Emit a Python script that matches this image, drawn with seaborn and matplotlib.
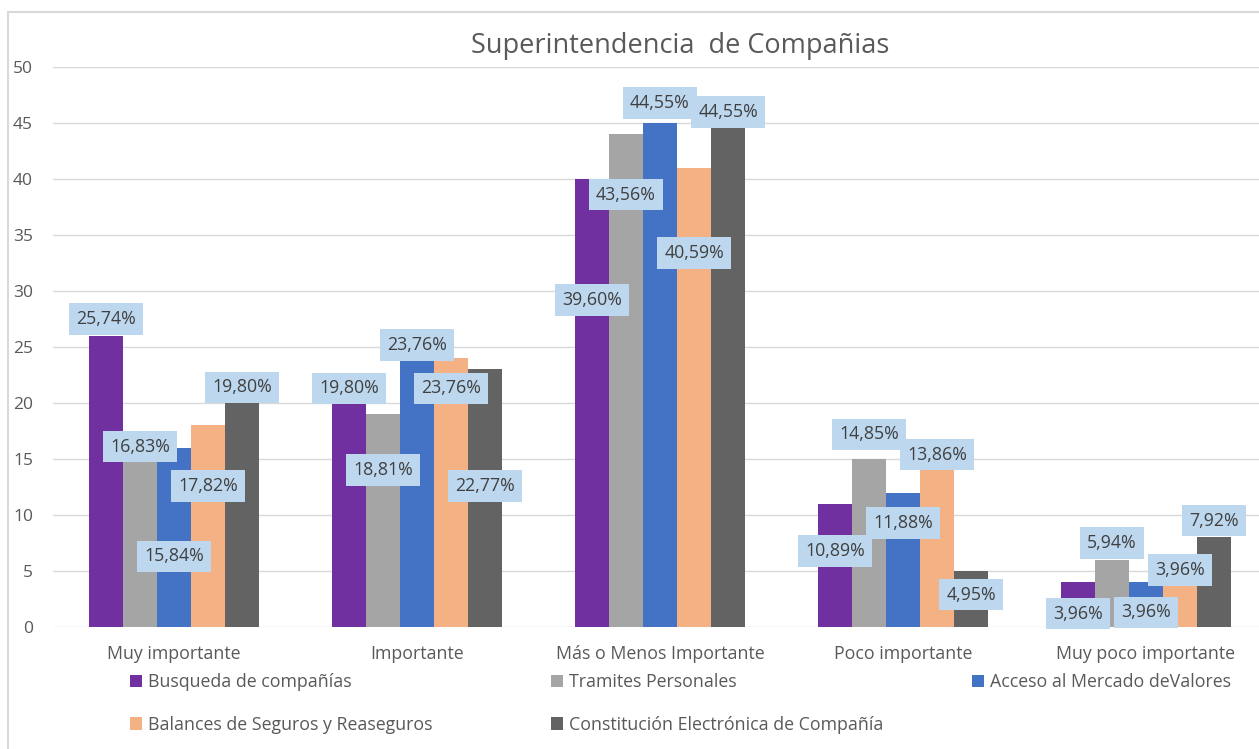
import numpy as np
import pandas as pd
import matplotlib.pyplot as plt
from matplotlib.patches import Rectangle
import seaborn as sns

# ---------------------------------------------------------------- data
categorias = ["Muy importante", "Importante", "Más o Menos Importante",
              "Poco importante", "Muy poco importante"]
series = ["Busqueda de compañías", "Tramites Personales",
          "Acceso al Mercado deValores", "Balances de Seguros y Reaseguros",
          "Constitución Electrónica de Compañía"]

# respuestas (conteo) por serie
busqueda = [26, 20, 40, 11, 4]
tramites = [17, 19, 44, 15, 6]
acceso = [16, 24, 45, 12, 4]
balances = [18, 24, 41, 14, 4]
constitucion = [20, 23, 45, 5, 8]

# etiquetas de porcentaje por serie
pct_busqueda = ["25,74%", "19,80%", "39,60%", "10,89%", "3,96%"]
pct_tramites = ["16,83%", "18,81%", "43,56%", "14,85%", "5,94%"]
pct_acceso = ["15,84%", "23,76%", "44,55%", "11,88%", "3,96%"]
pct_balances = ["17,82%", "23,76%", "40,59%", "13,86%", "3,96%"]
pct_constitucion = ["19,80%", "22,77%", "44,55%", "4,95%", "7,92%"]

# altura (eje y) donde Excel dejó cada etiqueta
ypos_busqueda = [27.5, 21.3, 29.2, 6.8, 1.2]
ypos_tramites = [16.1, 14.0, 38.6, 17.2, 7.5]
ypos_acceso = [6.3, 25.2, 46.8, 9.3, 1.3]
ypos_balances = [12.6, 21.3, 33.4, 15.4, 5.1]
ypos_constitucion = [21.4, 12.6, 46.0, 2.9, 9.5]

colores = ["#7030A0", "#A5A5A5", "#4472C4", "#F4B183", "#636363"]

valores = [busqueda, tramites, acceso, balances, constitucion]
etiquetas = [pct_busqueda, pct_tramites, pct_acceso, pct_balances, pct_constitucion]
ypos = [ypos_busqueda, ypos_tramites, ypos_acceso, ypos_balances, ypos_constitucion]

df = pd.DataFrame([
    {"categoria": c, "serie": s, "valor": v}
    for s, vals in zip(series, valores)
    for c, v in zip(categorias, vals)
])

# ---------------------------------------------------------------- figure
sns.set_theme(style="white")
plt.rcParams["font.family"] = ["Open Sans", "DejaVu Sans"]
W, H = 1259, 749
fig = plt.figure(figsize=(W / 100, H / 100), dpi=100)
ax = fig.add_axes([52.5 / W, (H - 627) / H, 1215 / W, 560 / H])

sns.barplot(data=df, x="categoria", y="valor", hue="serie", order=categorias,
            hue_order=series, palette=colores, saturation=1, width=0.7,
            edgecolor="none", linewidth=0, ax=ax)

handles, labels = ax.get_legend_handles_labels()
ax.get_legend().remove()

ax.set_ylim(0, 50)
ax.set_yticks(np.arange(0, 51, 5))
ax.set_xlabel("")
ax.set_ylabel("")
ax.yaxis.grid(True, color="#D9D9D9", lw=1)
ax.set_axisbelow(True)
for sp in ax.spines.values():
    sp.set_visible(False)
ax.tick_params(axis="y", length=0, pad=14, labelsize=12.5, labelcolor="#595959")
ax.tick_params(axis="x", length=0, pad=13, labelsize=12.8, labelcolor="#595959")

# data labels
for cont, labs, ys in zip(ax.containers, etiquetas, ypos):
    for bar, lab, y in zip(cont, labs, ys):
        xc = bar.get_x() + bar.get_width() / 2
        ax.text(xc, y, lab, ha="center", va="center", fontsize=12.8, color="#404040",
                bbox=dict(boxstyle="square,pad=0.38", fc="#BDD7EE", ec="none"),
                zorder=5)

# title + chart border
fig.text(680 / W, 1 - 46 / H, "Superintendencia  de Compañias", ha="center",
         va="center", fontsize=19.5, color="#595959")
fig.patches.append(Rectangle((8 / W, -0.1), 1.2, 1 - 12 / H + 0.1,
                             transform=fig.transFigure, fill=False,
                             ec="#D9D9D9", lw=1.5))

# legend: three fixed columns like Excel
cols = [[0, 3], [1, 4], [2]]
xs = [130, 551, 972]
for idx, x in zip(cols, xs):
    fig.legend([handles[i] for i in idx], [labels[i] for i in idx],
               loc="upper left", bbox_to_anchor=(x / W, 1 - 673 / H),
               frameon=False, fontsize=12.8, labelcolor="#595959",
               handlelength=0.7, handleheight=0.7, handletextpad=0.3,
               borderpad=0, borderaxespad=0, labelspacing=1.4)

fig.savefig("out.png", dpi=100)
